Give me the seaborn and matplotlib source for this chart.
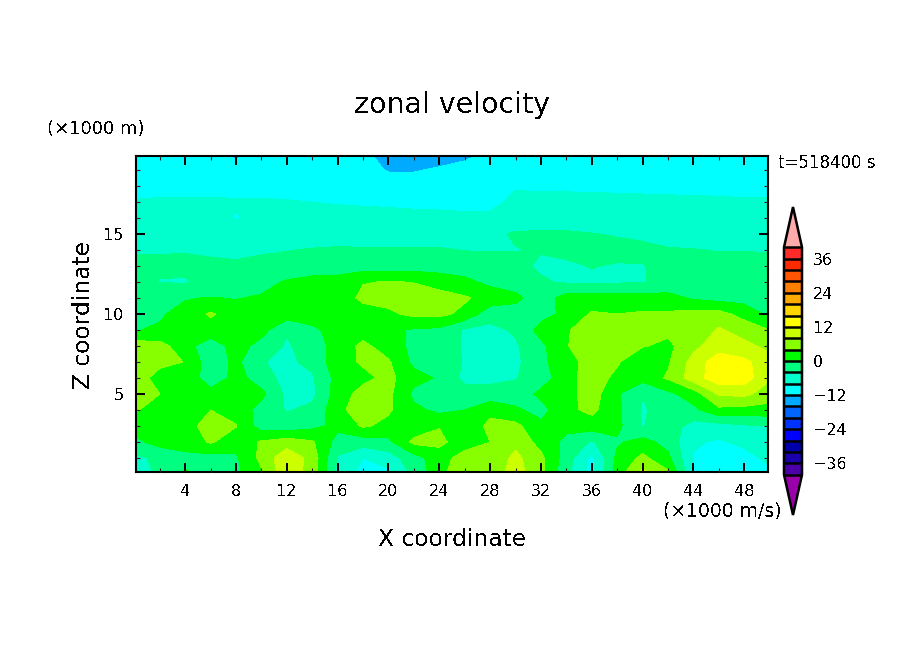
import numpy as np
import matplotlib
matplotlib.use('Agg')
import matplotlib.pyplot as plt
from matplotlib.ticker import MultipleLocator
from matplotlib.colors import ListedColormap, BoundaryNorm
import seaborn as sns

x_coord = [0, 2, 4, 6, 8, 10, 12, 14, 16, 18, 20, 22, 24, 26, 28, 30, 32, 34, 36, 38, 40, 42, 44, 46, 48, 50]
z_coord = list(range(21))

# zonal velocity, one row per z (bottom to top), in m/s
u_z00 = [-5.5,-3.5,0.5,-1,-1,3.5,11,6,-5,-9.5,-9,-3,2.5,8,5.5,10,5,-3,-9.5,2,9.5,5,-8,-10,-10,-9]
u_z01 = [-5,-3,-1,-1.5,-0.5,5,11,6.5,-4.5,-8,-6,-1.5,2,6,5,9,5,-2,-9,1,5,1,-8.3,-10,-9.5,-7]
u_z02 = [-1,1.5,1.5,4.5,1.5,4.5,6,4.5,-1.5,-2,-1,5,5,1.8,4,7,2.5,-1,-4.5,-0.5,1.5,-1.5,-7.5,-8.5,-7,-5]
u_z03 = [1.5,2,1.8,6.5,4.2,-2,-2.5,-1,1,4.5,3,1.5,3.8,1.2,5,5,1,1,2,1,-4.2,-2,-5.5,-5.5,-4.5,-4]
u_z04 = [4.5,2,3.9,4,2.5,-1.5,-4.3,-3,2.5,7,4.5,1,-1,0,3,0.8,-1.5,3,5,1,-4.5,-2,-1,3,2.5,2.5]
u_z05 = [6,4,1.5,2,1.5,1,-5,-5,2,5.5,5,-1,-1.5,-2.5,-2.5,-2.5,1,2.5,6,0.5,-3.8,-1,2,8.5,9,6]
u_z06 = [6,2.5,3.9,-3,1.5,-2,-5.5,-4.5,1.5,3,5,1.5,-0.5,-5,-5,-4.2,-2,2.5,6,3,1.5,4.5,10,14.5,14,8.5]
u_z07 = [6.5,5,3.9,-2.5,1,-3.8,-4.8,-3,2.5,4.5,4.5,-1,-0.5,-4.5,-5,-5,-0.8,2,6,4.5,0.5,3.5,9.5,14.5,13,9.5]
u_z08 = [6,5.5,1.5,-2.5,1.8,-1.5,-4.5,-2,1.5,5,2,-1,-1.5,-4.5,-5,-4.5,-1,3.8,6,5,4.3,3,7,10,9,7]
u_z09 = [-0.2,0.5,2,2.5,2,1.5,-3.6,-1,2,2,1,-0.5,-0.8,-4.5,-5,-3.5,1.5,3.8,5,4.5,4.8,5,5,8.5,6.5,4]
u_z10 = [-1,-0.5,1.5,4.5,2,2,2,2.5,2,2,3.2,5,5,3,-2.5,-1.5,-1.5,1,4.5,4,4.5,4.5,5.5,5.5,2.5,-0.8]
u_z11 = [0,0,-0.3,0.2,-0.2,0.5,1,1.5,1.5,5,5.5,5.5,5.5,4.5,2.5,0.8,-2,1.5,1.5,1.5,1.5,1.5,-0.5,-1.5,-1.5,-1]
u_z12 = [-2,-4.2,-4.3,-3,-2.5,-1.5,0.5,1.5,1.5,3.8,4.2,3.9,2.5,1,-1,-1.5,-3.6,-4.4,-4.4,-4.4,-4.2,-3,-2.8,-3.5,-2.5,-3]
u_z13 = [-3.2,-3.2,-3.3,-3.5,-3.6,-3.3,-3,-2.5,-2,-2,-2,-2,-2,-2,-2.5,-3.2,-4.5,-4.4,-3.9,-4.2,-4.1,-3.3,-3.2,-3.2,-3.2,-3.4]
u_z14 = [-4.3,-4.3,-4.2,-4.4,-4.6,-4.3,-4.1,-3.8,-3.6,-3.7,-3.7,-3.7,-3.7,-4.1,-4.2,-4.1,-3.8,-3.4,-3.2,-3.2,-3.4,-3.8,-3.9,-4.1,-4.1,-4.1]
u_z15 = [-5.5,-5.5,-5.5,-6,-6,-6,-5.8,-5.5,-5.5,-5.5,-5.5,-5.5,-5.5,-5.3,-4.6,-3.7,-3.6,-3.6,-3.9,-4.2,-4.5,-5,-5.2,-5.3,-5.3,-5.3]
u_z16 = [-6.5,-6.5,-6.8,-7,-8.2,-7,-7,-6.8,-7,-7.2,-7.2,-7.4,-7.5,-7.6,-7.3,-5.5,-5.5,-5.5,-5.5,-5.8,-6,-6.3,-6.3,-6.5,-6.5,-6.6]
u_z17 = [-7.8,-7.6,-7.6,-7.6,-7.7,-7.7,-7.8,-8,-8.2,-8.3,-8.4,-8.5,-8.5,-8.6,-8.9,-7.2,-7.3,-7.3,-7.4,-7.4,-7.5,-7.5,-7.6,-7.6,-7.7,-7.7]
u_z18 = [-9,-9,-9,-9,-9,-9,-9.2,-9.4,-9.6,-9.8,-10,-10,-9.8,-9.6,-9.4,-8.3,-8.4,-8.4,-8.4,-8.5,-8.5,-8.6,-8.6,-8.7,-8.8,-8.8]
u_z19 = [-9.5,-9.5,-9.5,-9.5,-10,-9.5,-9.5,-9.5,-10,-10.5,-12.3,-12.3,-11.5,-10,-9.8,-9.5,-9.5,-9.5,-9.5,-9.5,-9.5,-9.5,-9.5,-9.5,-9.5,-9.5]
u_z20 = [-10,-10,-10,-10,-13,-10,-10,-10,-10,-11,-14,-14,-14,-13.5,-11,-10,-10,-10,-10,-10,-10,-10,-10,-10,-10,-10]

u_rows = [u_z00, u_z01, u_z02, u_z03, u_z04, u_z05, u_z06, u_z07, u_z08, u_z09, u_z10,
          u_z11, u_z12, u_z13, u_z14, u_z15, u_z16, u_z17, u_z18, u_z19, u_z20]

levels = list(range(-40, 44, 4))
bar_ticks = [-36, -24, -12, 0, 12, 24, 36]
x_ticks = [4, 8, 12, 16, 20, 24, 28, 32, 36, 40, 44, 48]
z_ticks = [5, 10, 15]

# colours of the 20 colorbar boxes, bottom to top, and the two end triangles
box_colors = ['#4b00aa', '#1a00aa', '#0000aa', '#0000ff', '#0033ff', '#0066ff', '#00aaff',
              '#00ffff', '#00ffcc', '#00ff80', '#00ff00', '#88ff00', '#ccff00', '#ffff00',
              '#ffd500', '#ffaa00', '#ff7f00', '#ff5500', '#ff2a00', '#ff2a2a']
under_color = '#9900aa'
over_color = '#ffaaaa'

sns.set_theme(style='ticks')
plt.rcParams['font.family'] = ['DejaVu Sans']
plt.rcParams['text.antialiased'] = False

W, H = 904, 654
fig = plt.figure(figsize=(W / 100, H / 100), dpi=100, facecolor='white')
ax = fig.add_axes([136 / W, 1 - 472 / H, 632 / W, 316 / H])

cmap = ListedColormap(sns.color_palette(box_colors).as_hex())
cmap.set_under(under_color)
cmap.set_over(over_color)
norm = BoundaryNorm(levels, cmap.N)

u = np.array(u_rows)
cf = ax.contourf(x_coord, z_coord, u, levels=levels, cmap=cmap, norm=norm, extend='both', antialiased=False)

ax.set_xlim(0.125, 49.875)
ax.set_ylim(0.125, 19.875)
ax.set_xticks(x_ticks)
ax.set_yticks(z_ticks)
ax.xaxis.set_minor_locator(MultipleLocator(2))
ax.yaxis.set_minor_locator(MultipleLocator(1))
# seaborn puts ticks under the artists, the contours would hide them
ax.set_axisbelow(False)
ax.tick_params(which='major', direction='in', length=6.5, width=1.4, top=True, right=True,
               labelsize=11.5, colors='black', pad=9)
ax.tick_params(which='minor', direction='in', length=3, width=0.8, top=True, right=True)
for s in ax.spines.values():
    s.set_linewidth(1.5)
    s.set_color('black')

fig.text(452.5 / W, 1 - 105 / H, 'zonal velocity', fontsize=20.5, ha='center', va='center', color='black')
fig.text(452 / W, 1 - 540 / H, 'X coordinate', fontsize=16.8, ha='center', va='center', color='black')
fig.text(83 / W, 1 - 315 / H, 'Z coordinate', fontsize=16.8, ha='center', va='center', rotation=90, color='black')
fig.text(47 / W, 1 - 129 / H, '(×1000 m)', fontsize=13, ha='left', va='center', color='black')
fig.text(782 / W, 1 - 511 / H, '(×1000 m/s)', fontsize=13.5, ha='right', va='center', color='black')
fig.text(778 / W, 1 - 163 / H, 't=518400 s', fontsize=12, ha='left', va='center', color='black')

cax = fig.add_axes([784 / W, 1 - 515 / H, 18 / W, 308 / H])
cb = fig.colorbar(cf, cax=cax, extend='both', extendfrac=40 / 226, drawedges=True, ticks=bar_ticks)
cb.dividers.set_color('black')
cb.dividers.set_linewidth(1.8)
cb.outline.set_edgecolor('black')
cb.outline.set_linewidth(1.8)
cb.ax.tick_params(length=0, labelsize=11.5, colors='black', pad=8)
cb.ax.minorticks_off()

fig.savefig('out.png', dpi=100, facecolor='white')
